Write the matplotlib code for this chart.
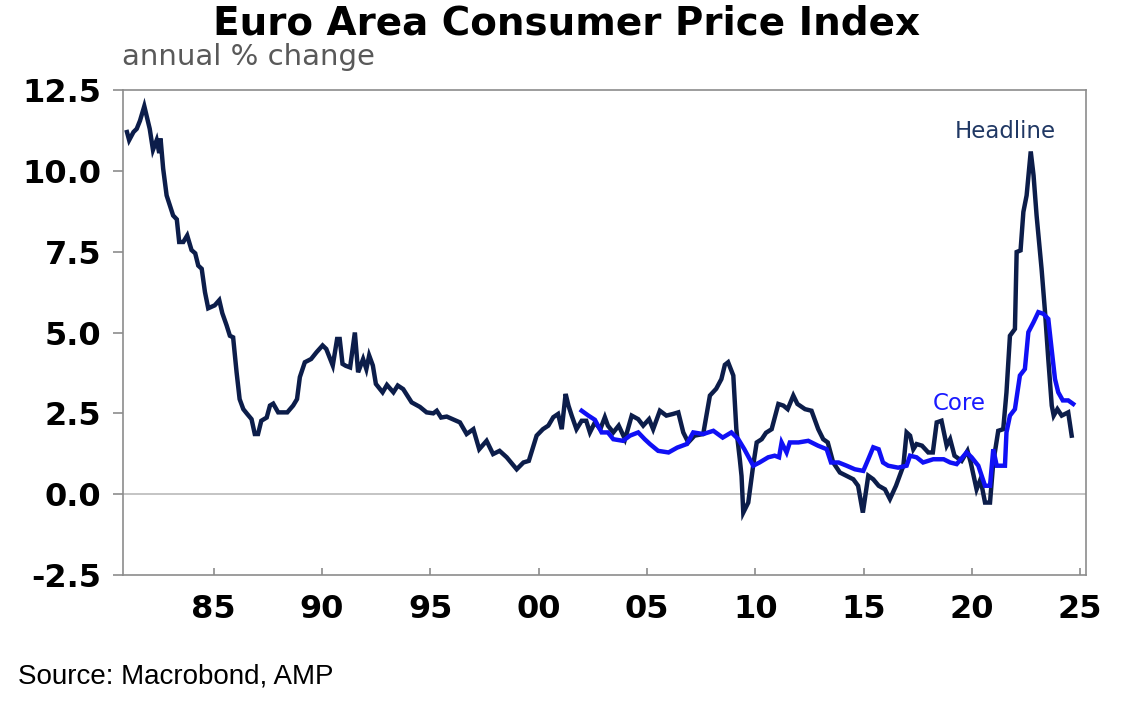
import matplotlib
matplotlib.use("Agg")
import matplotlib.pyplot as plt

# ---- data (decimal year, annual % change) ----
headline_t = [1981.0, 1981.1, 1981.3, 1981.45, 1981.6, 1981.8, 1982.05, 1982.2, 1982.37, 1982.49,
              1982.55, 1982.67, 1982.83, 1982.98, 1983.13, 1983.3, 1983.41, 1983.6, 1983.78, 1983.98,
              1984.15, 1984.29, 1984.45, 1984.6, 1984.75, 1985.05, 1985.26, 1985.4, 1985.6, 1985.75,
              1985.9, 1986.06, 1986.2, 1986.37, 1986.55, 1986.75, 1986.9, 1987.05, 1987.2, 1987.45,
              1987.6, 1987.75, 1987.98, 1988.4, 1988.67, 1988.85, 1988.98, 1989.21, 1989.5, 1989.75,
              1990.03, 1990.2, 1990.38, 1990.5, 1990.7, 1990.82, 1990.95, 1991.1, 1991.3, 1991.52,
              1991.67, 1991.9, 1992.05, 1992.18, 1992.35, 1992.49, 1992.8, 1993.0, 1993.3, 1993.5,
              1993.75, 1994.14, 1994.52, 1994.83, 1995.14, 1995.3, 1995.5, 1995.76, 1996.37, 1996.68,
              1996.99, 1997.26, 1997.6, 1997.9, 1998.2, 1998.53, 1998.99, 1999.3, 1999.55, 1999.91,
              2000.2, 2000.45, 2000.68, 2000.9, 2001.07, 2001.25, 2001.38, 2001.53, 2001.75, 2001.99,
              2002.2, 2002.37, 2002.6, 2002.85, 2003.06, 2003.2, 2003.45, 2003.7, 2003.99, 2004.3,
              2004.6, 2004.83, 2005.1, 2005.29, 2005.6, 2005.9, 2006.2, 2006.45, 2006.68, 2006.91,
              2007.2, 2007.6, 2007.91, 2008.2, 2008.44, 2008.6, 2008.75, 2008.99, 2009.13, 2009.29,
              2009.37, 2009.45, 2009.68, 2009.91, 2010.07, 2010.3, 2010.5, 2010.76, 2011.07, 2011.3,
              2011.5, 2011.76, 2011.95, 2012.3, 2012.6, 2012.91, 2013.14, 2013.35, 2013.6, 2013.91,
              2014.2, 2014.53, 2014.75, 2014.97, 2015.22, 2015.45, 2015.7, 2015.99, 2016.22, 2016.5,
              2016.84, 2016.99, 2017.15, 2017.3, 2017.45, 2017.7, 2017.99, 2018.2, 2018.38, 2018.6,
              2018.84, 2019.0, 2019.2, 2019.53, 2019.8, 2019.95, 2020.22, 2020.4, 2020.61, 2020.84,
              2020.99, 2021.22, 2021.45, 2021.6, 2021.76, 2021.99, 2022.07, 2022.25, 2022.38, 2022.53,
              2022.72, 2022.85, 2022.99, 2023.22, 2023.38, 2023.53, 2023.69, 2023.78, 2023.95, 2024.15,
              2024.45, 2024.61]
headline_v = [11.2, 10.95, 11.2, 11.3, 11.55, 12.0, 11.3, 10.65, 10.95, 10.55,
              11.0, 10.07, 9.24, 8.93, 8.62, 8.5, 7.8, 7.8, 8.0, 7.55,
              7.45, 7.07, 6.97, 6.25, 5.75, 5.84, 6.0, 5.6, 5.22, 4.9,
              4.85, 3.77, 2.94, 2.63, 2.48, 2.32, 1.86, 1.86, 2.27, 2.37,
              2.74, 2.8, 2.53, 2.53, 2.74, 2.94, 3.62, 4.08, 4.18, 4.39,
              4.6, 4.49, 4.18, 3.98, 4.8, 4.8, 4.03, 3.97, 3.92, 5.0,
              3.77, 4.18, 3.87, 4.29, 3.98, 3.41, 3.15, 3.38, 3.15, 3.36,
              3.25, 2.84, 2.7, 2.53, 2.5, 2.58, 2.37, 2.4, 2.22, 1.86,
              2.01, 1.39, 1.65, 1.24, 1.34, 1.14, 0.77, 0.98, 1.03, 1.81,
              2.01, 2.12, 2.38, 2.48, 2.01, 3.1, 2.74, 2.43, 2.01, 2.27,
              2.27, 1.91, 2.22, 2.01, 2.38, 2.12, 1.91, 2.12, 1.7, 2.43,
              2.32, 2.12, 2.32, 2.01, 2.58, 2.43, 2.48, 2.53, 1.91, 1.6,
              1.81, 1.86, 3.05, 3.26, 3.56, 4.0, 4.08, 3.67, 2.01, 1.08,
              0.56, -0.57, -0.26, 0.9, 1.6, 1.7, 1.9, 2.01, 2.79, 2.74,
              2.63, 3.05, 2.79, 2.63, 2.58, 2.01, 1.7, 1.6, 0.98, 0.67,
              0.57, 0.46, 0.26, -0.57, 0.57, 0.46, 0.26, 0.15, -0.15, 0.26,
              0.88, 1.91, 1.81, 1.39, 1.55, 1.5, 1.29, 1.29, 2.22, 2.27,
              1.5, 1.7, 1.19, 1.03, 1.34, 0.98, 0.15, 0.46, -0.26, -0.26,
              0.98, 1.96, 2.01, 3.15, 4.9, 5.11, 7.49, 7.54, 8.73, 9.24,
              10.6, 9.86, 8.62, 6.97, 5.63, 4.18, 2.74, 2.43, 2.63, 2.43,
              2.53, 1.81]

core_t = [2001.99, 2002.3, 2002.6, 2002.91, 2003.2, 2003.45, 2003.9, 2004.22, 2004.6, 2004.9,
          2005.14, 2005.52, 2006.0, 2006.4, 2006.84, 2007.14, 2007.6, 2008.07, 2008.5, 2008.9,
          2009.22, 2009.5, 2009.91, 2010.2, 2010.6, 2010.9, 2011.1, 2011.22, 2011.45, 2011.6,
          2012.0, 2012.45, 2012.9, 2013.3, 2013.5, 2013.85, 2014.22, 2014.6, 2014.99, 2015.22,
          2015.45, 2015.7, 2015.9, 2016.14, 2016.6, 2016.99, 2017.15, 2017.45, 2017.75, 2018.22,
          2018.7, 2019.0, 2019.3, 2019.76, 2019.99, 2020.3, 2020.61, 2020.84, 2020.99, 2021.15,
          2021.53, 2021.6, 2021.76, 2021.99, 2022.22, 2022.45, 2022.61, 2022.85, 2023.07, 2023.3,
          2023.53, 2023.7, 2023.84, 2023.99, 2024.2, 2024.45, 2024.68]
core_v = [2.58, 2.43, 2.3, 1.91, 1.91, 1.7, 1.65, 1.81, 1.91, 1.7,
          1.55, 1.34, 1.29, 1.44, 1.55, 1.91, 1.86, 1.96, 1.75, 1.91,
          1.7, 1.39, 0.88, 0.98, 1.14, 1.19, 1.14, 1.6, 1.29, 1.6,
          1.6, 1.65, 1.5, 1.39, 0.98, 0.98, 0.88, 0.77, 0.72, 1.08,
          1.45, 1.39, 0.98, 0.88, 0.82, 0.88, 1.19, 1.14, 0.98, 1.08,
          1.08, 0.98, 0.93, 1.29, 1.14, 0.88, 0.26, 0.26, 1.39, 0.88,
          0.88, 1.91, 2.43, 2.63, 3.67, 3.87, 5.01, 5.32, 5.63, 5.58,
          5.42, 4.39, 3.56, 3.15, 2.9, 2.9, 2.79]

xtick_pos = [1985, 1990, 1995, 2000, 2005, 2010, 2015, 2020, 2025]
xtick_lab = ["85", "90", "95", "00", "05", "10", "15", "20", "25"]
ytick_pos = [-2.5, 0.0, 2.5, 5.0, 7.5, 10.0, 12.5]

title = "Euro Area Consumer Price Index"
subtitle = "annual % change"
source = "Source: Macrobond, AMP"

# ---- figure ----
fig = plt.figure(figsize=(11.27, 7.05), dpi=100)
ax = fig.add_axes([0.1094, 0.1844, 0.8542, 0.6879])

navy = "#0c1d4a"
blue = "#1010f5"
grey = "#8c8c8c"

ax.axhline(0, color="#b4b4b4", lw=1.1, zorder=1)
ax.plot(headline_t, headline_v, color=navy, lw=3.2, solid_joinstyle="miter", zorder=3)
ax.plot(core_t, core_v, color=blue, lw=3.2, solid_joinstyle="miter", zorder=4)

ax.set_xlim(1980.83, 2025.27)
ax.set_ylim(-2.5, 12.5)
ax.set_xticks(xtick_pos)
ax.set_xticklabels(xtick_lab)
ax.set_yticks(ytick_pos)
ax.set_yticklabels([f"{v:.1f}" for v in ytick_pos])

for s in ax.spines.values():
    s.set_color(grey)
    s.set_linewidth(1.2)

for lab in ax.get_xticklabels() + ax.get_yticklabels():
    lab.set_fontfamily("DejaVu Sans")
    lab.set_fontweight("bold")
    lab.set_fontsize(23)
    lab.set_color("black")

ax.tick_params(axis="x", direction="in", length=5, width=1.2, color=grey, pad=14)
ax.tick_params(axis="y", direction="out", length=7, width=1.2, color=grey, pad=9)

ax.text(2021.53, 11.22, "Headline", color="#203864", fontsize=16.5,
        family="DejaVu Sans", ha="center", va="center")
ax.text(2019.4, 2.79, "Core", color="#1a1aff", fontsize=16.5,
        family="DejaVu Sans", ha="center", va="center")

fig.text(0.503, 0.967, title, ha="center", va="center", fontsize=28,
         family="DejaVu Sans", weight="bold", color="black")
fig.text(0.108, 0.919, subtitle, ha="left", va="center", fontsize=21,
         family="DejaVu Sans", color="#595959")
fig.text(0.016, 0.041, source, ha="left", va="center", fontsize=20,
         family="Liberation Sans", color="black")

fig.savefig("out.png", dpi=100)
